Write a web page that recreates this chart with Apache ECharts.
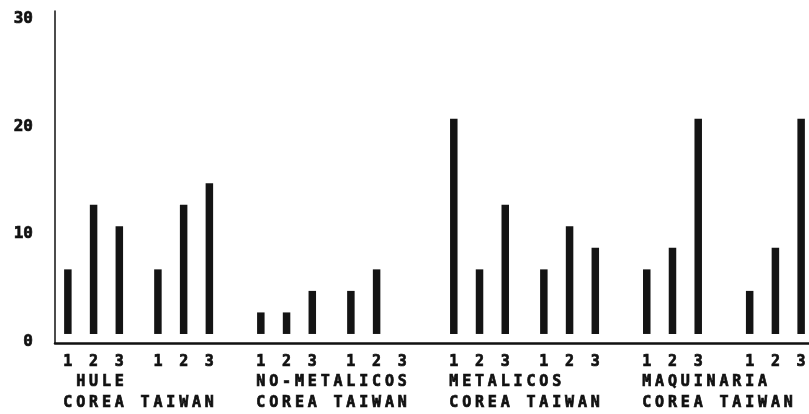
<!DOCTYPE html>
<html>
<head>
<meta charset="utf-8">
<script src="https://cdn.jsdelivr.net/npm/echarts@6/dist/echarts.min.js"></script>
<style>
  html, body { margin: 0; padding: 0; background: #fff; }
  #chart { width: 809px; height: 414px; }
</style>
</head>
<body>
<div id="chart"></div>
<script>
// ---- data ----
const groups = ['HULE', 'NO-METALICOS', 'METALICOS', 'MAQUINARIA'];
const countries = ['COREA', 'TAIWAN'];
const periods = ['1', '2', '3'];
const coreaValues = [[6, 12, 10], [2, 2, 4], [20, 6, 12], [6, 8, 20]];
const taiwanValues = [[6, 12, 14], [4, 6, 0], [6, 10, 8], [4, 8, 20]];
const yTickLabels = [0, 10, 20, 30];

// ---- layout (character-cell grid of the original plot) ----
const N = 60;                 // category cells, cell 0 sits on the y axis
const groupWidth = 15;
const taiwanShift = [7, 7, 7, 8];
const nameShift = [1, 0, 0, 0];
const cell = s => s + 1;

const coreaData = Array(N).fill('-');
const taiwanData = Array(N).fill('-');
const digitRow = Array(N).fill('');
const nameRow = Array(N).fill('');
const countryRow = Array(N).fill('');

groups.forEach((name, g) => {
  const start = g * groupWidth;
  periods.forEach((p, k) => {
    const c = cell(start + 2 * k);
    coreaData[c] = coreaValues[g][k];
    digitRow[c] = p;
    const t = cell(start + taiwanShift[g] + 2 * k);
    taiwanData[t] = taiwanValues[g][k];
    digitRow[t] = p;
  });
  name.split('').forEach((ch, i) => { nameRow[cell(start + nameShift[g] + i)] = ch; });
  (countries[0] + ' ' + countries[1]).split('').forEach((ch, i) => {
    countryRow[cell(start + i)] = ch;
  });
});

const cats = Array.from({ length: N }, (_, i) => String(i));
const font = {
  fontFamily: 'DejaVu Sans Mono', fontWeight: 'bold', fontSize: 15, color: '#111',
  textBorderColor: '#111', textBorderWidth: 0.7
};

function labelAxis(row, margin, showLine) {
  return {
    type: 'category',
    data: cats,
    position: 'bottom',
    boundaryGap: false,
    axisLine: { show: showLine, onZero: false, lineStyle: { color: '#111', width: 2.5 } },
    axisTick: { show: false },
    splitLine: { show: false },
    axisLabel: Object.assign({
      interval: 0,
      margin: margin,
      hideOverlap: false,
      formatter: (v, i) => row[i]
    }, font)
  };
}

const chart = echarts.init(document.getElementById('chart'), null, { renderer: 'canvas' });
chart.setOption({
  animation: false,
  backgroundColor: '#fff',
  grid: { left: 55, right: -5, top: 11, bottom: 71, containLabel: false, outerBoundsMode: 'none' },
  xAxis: [
    labelAxis(digitRow, 12, true),
    labelAxis(nameRow, 32, false),
    labelAxis(countryRow, 53, false)
  ],
  yAxis: {
    type: 'value',
    min: -0.84,
    max: 30,
    axisLine: { show: true, lineStyle: { color: '#111', width: 1.5 } },
    axisTick: { show: false },
    splitLine: { show: false },
    axisLabel: Object.assign({}, font, {
      customValues: yTickLabels,
      margin: 22,
      verticalAlign: 'top',
      fontSize: 16
    })
  },
  series: [
    { name: countries[0], type: 'bar', xAxisIndex: 0, data: coreaData, barWidth: 7.5, barGap: '-100%',
      itemStyle: { color: '#141414' }, silent: true },
    { name: countries[1], type: 'bar', xAxisIndex: 0, data: taiwanData, barWidth: 7.5, barGap: '-100%',
      itemStyle: { color: '#141414' }, silent: true }
  ]
});
</script>
</body>
</html>
